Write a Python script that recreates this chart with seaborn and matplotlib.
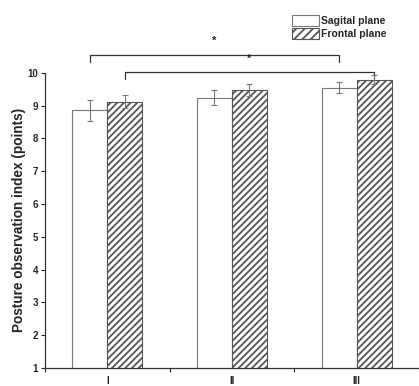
import numpy as np
import pandas as pd
import matplotlib
matplotlib.use("Agg")
import matplotlib.pyplot as plt
import seaborn as sns
from matplotlib.patches import Patch

categories = ["I", "II", "III"]
planes = ["Sagital plane", "Frontal plane"]
sagital_mean = [8.86, 9.25, 9.55]
sagital_err = [0.32, 0.23, 0.16]
frontal_mean = [9.12, 9.49, 9.80]
frontal_err = [0.20, 0.18, 0.13]

df = pd.DataFrame({
    "group": categories * 2,
    "plane": [planes[0]] * 3 + [planes[1]] * 3,
    "value": sagital_mean + frontal_mean,
})
errs = sagital_err + frontal_err

sns.set_style("ticks")
plt.rcParams["font.family"] = ["Liberation Sans", "DejaVu Sans"]
plt.rcParams["font.weight"] = "bold"
plt.rcParams["hatch.linewidth"] = 1.3
plt.rcParams["hatch.color"] = "#333333"

fig = plt.figure(figsize=(4.19, 3.86), dpi=100)
ax = fig.add_axes([0.107, 0.047, 0.893, 0.764])

sns.barplot(data=df, x="group", y="value", hue="plane", order=categories,
            hue_order=planes, palette=["white", "white"], errorbar=None,
            width=0.56, gap=0, edgecolor="#777777", linewidth=0.8, ax=ax,
            legend=False)

bars = ax.patches[:6]
for i, p in enumerate(bars):
    if i >= 3:
        p.set_hatch("/////")
        p.set_edgecolor("#555555")
    p.set_zorder(2)
    xc = p.get_x() + p.get_width() / 2
    ax.errorbar(xc, p.get_height(), yerr=errs[i], color="#777777",
                capsize=2.5, elinewidth=0.8, capthick=0.8, zorder=3,
                clip_on=False)

ax.set_ylim(1, 10)
ax.set_xlim(-0.5, 2.5)
ax.set_yticks(range(1, 11))
ax.tick_params(axis="y", labelsize=7, length=3, width=0.8, pad=2)
ax.tick_params(axis="x", which="major", length=0, labelsize=7, pad=6)
ax.set_xticks([-0.5, 0.5, 1.5, 2.5], minor=True)
ax.tick_params(axis="x", which="minor", length=3, width=0.8, direction="out")
for lab in ax.get_yticklabels() + ax.get_xticklabels():
    lab.set_fontweight("bold")
ax.set_xlabel("")
ax.set_ylabel("Posture observation index (points)", fontsize=9.8,
              fontweight="bold", labelpad=1)
sns.despine(ax=ax)
for s in ["left", "bottom"]:
    ax.spines[s].set_linewidth(0.9)
    ax.spines[s].set_color("#333333")

# significance brackets
def bracket(x0, x1, y, h, star_y):
    ax.plot([x0, x0, x1, x1], [y - h, y, y, y - h], color="#333333",
            lw=0.9, clip_on=False)
    ax.text((x0 + x1) / 2, star_y, "*", ha="center", va="center",
            fontsize=8, fontweight="bold", clip_on=False)

bx0 = [bars[0].get_x() + bars[0].get_width() / 2, bars[2].get_x() + bars[2].get_width() / 2]
bx1 = [bars[3].get_x() + bars[3].get_width() / 2, bars[5].get_x() + bars[5].get_width() / 2]
bracket(bx0[0], bx0[1], 10.54, 0.2, 10.98)
bracket(bx1[0], bx1[1], 10.03, 0.22, 10.42)

# legend
handles = [Patch(facecolor="white", edgecolor="#777777", lw=0.8),
           Patch(facecolor="white", edgecolor="#555555", hatch="////", lw=0.8)]
leg = fig.legend(handles, planes, loc="upper left", bbox_to_anchor=(0.685, 0.975),
                 frameon=False, fontsize=7.5, handlelength=2.6, handleheight=1.3,
                 handletextpad=0.2, labelspacing=0.15, borderpad=0)
for t in leg.get_texts():
    t.set_fontweight("bold")

fig.savefig("out.png", dpi=100)
